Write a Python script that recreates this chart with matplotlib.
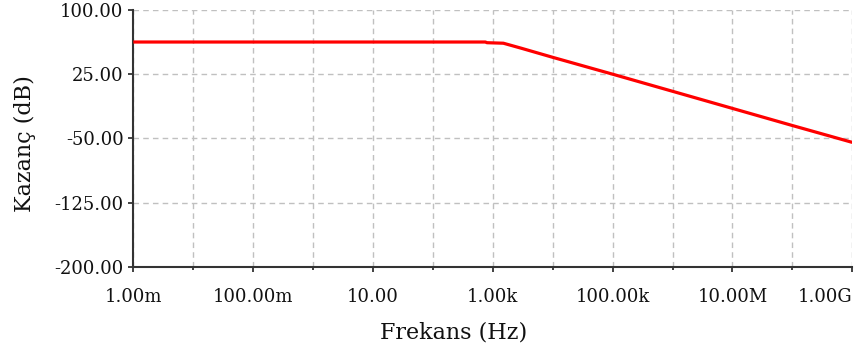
import numpy as np
import matplotlib.pyplot as plt
from matplotlib.ticker import FixedLocator, FixedFormatter

# frequency response read at a handful of frequencies
freq = [1e-3, 1e-1, 1e1, 1e2, 7.5e2, 8.0e2, 1.5e3, 3.0e3, 1e4, 1e5, 1e6, 1e7, 1e8, 1e9]
gain = [62.6, 62.6, 62.6, 62.6, 62.6, 61.8, 61.2, 55.3, 44.7, 25.0, 5.0, -15.0, -35.0, -54.7]

xticks = [1e-3, 1e-1, 1e1, 1e3, 1e5, 1e7, 1e9]
xlabels = ['1.00m', '100.00m', '10.00', '1.00k', '100.00k', '10.00M', '1.00G']
xminor = [1e-2, 1e0, 1e2, 1e4, 1e6, 1e8]
yticks = [-200, -125, -50, 25, 100]
ylabels = ['-200.00', '-125.00', '-50.00', '25.00', '100.00']

plt.rcParams['font.family'] = ['DejaVu Serif']

fig = plt.figure(figsize=(8.63, 3.49), dpi=100)
ax = fig.add_axes([0.1545, 0.2358, 0.8331, 0.7355])

ax.semilogx(freq, gain, color='#ff0000', lw=2.3, solid_capstyle='butt', zorder=3)

ax.set_xlim(1e-3, 1e9)
ax.set_ylim(-200, 100)

ax.xaxis.set_major_locator(FixedLocator(xticks))
ax.xaxis.set_major_formatter(FixedFormatter(xlabels))
ax.xaxis.set_minor_locator(FixedLocator(xminor))
ax.xaxis.set_minor_formatter(FixedFormatter([''] * len(xminor)))
ax.set_yticks(yticks)
ax.set_yticklabels(ylabels)

grid_kw = dict(color='#c0c0c0', lw=1.0, linestyle=(0, (4, 3)))
ax.grid(True, which='major', **grid_kw)
ax.grid(True, which='minor', axis='x', **grid_kw)

for s in ['top', 'right']:
    ax.spines[s].set_visible(False)
for s in ['left', 'bottom']:
    ax.spines[s].set_color('#333333')
    ax.spines[s].set_linewidth(1.5)

ax.tick_params(which='major', length=3.5, width=1.3, color='#333333',
               labelsize=13, labelcolor='#111111')
ax.tick_params(axis='x', which='major', pad=12)
ax.tick_params(axis='y', which='major', pad=3.5)
ax.tick_params(which='minor', length=2, width=1.3, color='#333333')

# last frequency label sits flush with the end of the axis
ax.get_xticklabels()[-1].set_horizontalalignment('right')

ax.set_xlabel('Frekans (Hz)', fontsize=16, color='#111111')
ax.xaxis.set_label_coords(0.445, -0.215)
ax.set_ylabel('Kazanç (dB)', fontsize=16, color='#111111')
ax.yaxis.set_label_coords(-0.135, 0.48)

fig.savefig('out.png', dpi=100, facecolor='white')
